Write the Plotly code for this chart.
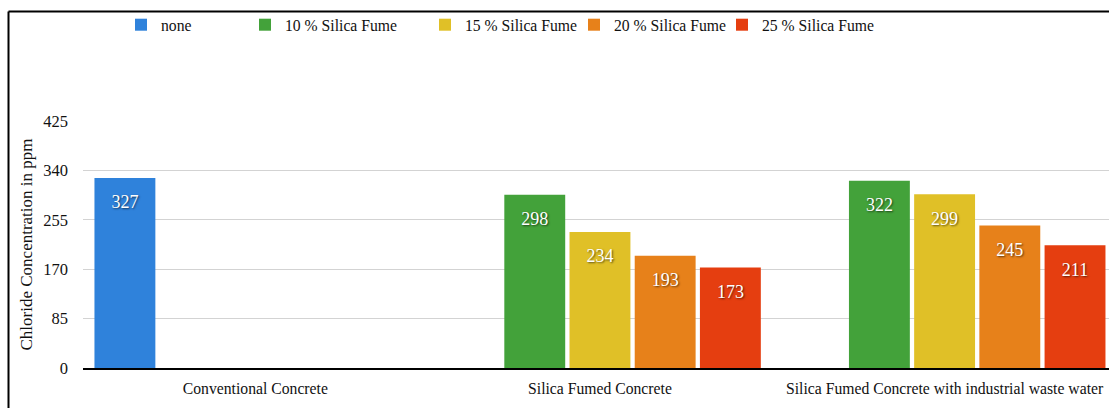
import plotly.graph_objects as go

categories = ["Conventional Concrete", "Silica Fumed Concrete",
              "Silica Fumed Concrete with industrial waste water"]
series_names = ["none", "10 % Silica Fume", "15 % Silica Fume",
                "20 % Silica Fume", "25 % Silica Fume"]
none_vals = [327, None, None]
sf10_vals = [None, 298, 322]
sf15_vals = [None, 234, 299]
sf20_vals = [None, 193, 245]
sf25_vals = [None, 173, 211]
y_ticks = [0, 85, 170, 255, 340, 425]

series_vals = [none_vals, sf10_vals, sf15_vals, sf20_vals, sf25_vals]
colors = ["#2F82DB", "#43A23A", "#E0C027", "#E7811A", "#E53E10"]

W, H = 1109, 408
L, R, T, B = 83, 0, 121, 40
pw, ph = W - L - R, H - T - B

def px_x(p):
    return (p - L) / pw

def px_y(p):
    return (H - B - p) / ph

legend_text_x = [155, 279, 459, 608, 756]
FONT = "Liberation Serif"

fig = go.Figure()
for i, (name, vals, col) in enumerate(zip(series_names, series_vals, colors)):
    leg = "legend" if i == 0 else f"legend{i+1}"
    fig.add_trace(go.Bar(
        x=categories, y=vals, name=name, marker=dict(color=col, line=dict(width=0)),
        text=["<span style='font-size:5px'>&nbsp;</span><br>" + str(v) if v is not None else ""
              for v in vals],
        textposition="inside", insidetextanchor="end",
        textfont=dict(family=FONT, size=18, color="white",
                      shadow="1px 1px 2px rgba(0,0,0,0.6)"),
        legend=leg, cliponaxis=False,
    ))

legends = {}
for i in range(5):
    key = "legend" if i == 0 else f"legend{i+1}"
    legends[key] = dict(
        x=px_x(legend_text_x[i] - 34), y=px_y(25), xanchor="left", yanchor="middle",
        orientation="h", font=dict(family=FONT, size=15.7, color="#111"),
        bgcolor="rgba(0,0,0,0)", borderwidth=0, itemwidth=30,
    )

fig.update_layout(
    width=W, height=H,
    margin=dict(l=L, r=R, t=T, b=B, pad=0),
    barmode="group", bargap=0.054, bargroupgap=0.066,
    plot_bgcolor="white", paper_bgcolor="white",
    font=dict(family=FONT, size=15.7, color="#111"),
    showlegend=True,
    **legends,
    xaxis=dict(range=[-0.5, 2.477], showgrid=False, ticks="", showline=True,
               linecolor="black", linewidth=2, tickfont=dict(size=15.7),
               ticklabelstandoff=5),
    yaxis=dict(range=[0, 425], tickvals=y_ticks, showgrid=True, gridcolor="#D3D3D3",
               gridwidth=1, zeroline=False, showline=False, ticks="",
               tickfont=dict(size=16.5), ticklabelstandoff=14,
               title=dict(text="Chloride Concentration in ppm",
                          font=dict(size=17), standoff=6)),
    shapes=[
        dict(type="line", xref="paper", yref="paper", x0=px_x(8.5), x1=1.02,
             y0=px_y(11.5), y1=px_y(11.5), line=dict(color="black", width=2)),
        dict(type="line", xref="paper", yref="paper", x0=px_x(8.5), x1=px_x(8.5),
             y0=px_y(11.5), y1=px_y(420), line=dict(color="black", width=2)),
    ],
)

fig.write_html("out.html")
